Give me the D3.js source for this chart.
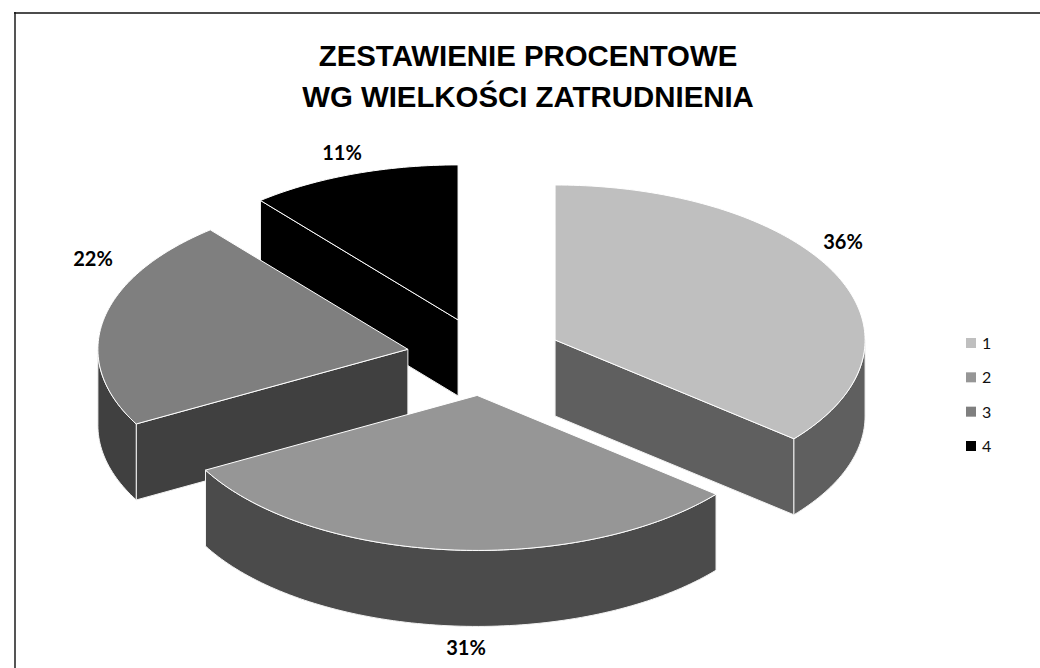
<!DOCTYPE html>
<html>
<head>
<meta charset="utf-8">
<script src="https://cdn.jsdelivr.net/npm/d3@7"></script>
<style>
    html, body { margin: 0; padding: 0; background: #fff; }
    svg { display: block; }
    .title { font-family: "Liberation Sans", Arial, sans-serif; font-weight: bold; font-size: 29.4px; fill: #000; }
    .pct { font-family: Lato, sans-serif; font-weight: bold; font-size: 20px; fill: #000; }
    .leg { font-family: Lato, sans-serif; font-size: 16px; fill: #111; }
</style>
</head>
<body>
<svg id="chart" width="1040" height="668"></svg>
<script>
const CATEGORIES = ["1", "2", "3", "4"];
const VALUES = [36, 31, 22, 11];
const TOP_COLORS = ["#bfbfbf", "#969696", "#7f7f7f", "#000000"];
const SIDE_COLORS = ["#5f5f5f", "#4b4b4b", "#404040", "#000000"];
const TITLE_LINES = ["ZESTAWIENIE PROCENTOWE", "WG WIELKOŚCI ZATRUDNIENIA"];

// layout of the tilted pie
const CX = 484.5, CY = 356.6, RX = 310, RY = 155, DEPTH = 76, EXPLODE = 78;
const LABEL_XY = [[843, 242], [466, 648], [93, 259], [342, 153]];
const DRAW_ORDER = [3, 2, 0, 1];

const SVG = d3.select("#chart");

// frame, the top line runs off the right side and the left one off the bottom
SVG.append("line").attr("x1", 15).attr("x2", 15).attr("y1", 12).attr("y2", 668)
    .attr("stroke", "#555").attr("stroke-width", 2);
SVG.append("line").attr("x1", 14).attr("x2", 1040).attr("y1", 13).attr("y2", 13)
    .attr("stroke", "#111").attr("stroke-width", 1.6);

const title = SVG.append("text").attr("class", "title").attr("text-anchor", "middle");
TITLE_LINES.forEach((line, i) => {
    title.append("tspan").attr("x", 528).attr("y", 66 + i * 41).text(line);
});

const slices = d3.pie().sort(null).value(d => d)(VALUES);

// angle 0 is at the top, clockwise, as in d3.pie
const px = (c, a) => c.x + RX * Math.sin(a);
const py = (c, a) => c.y - RY * Math.cos(a);

function arcPoints(c, a0, a1, dy) {
    const n = Math.max(2, Math.ceil((a1 - a0) / 0.02));
    return d3.range(n + 1).map(i => {
        const a = a0 + (a1 - a0) * i / n;
        return [px(c, a), py(c, a) + dy];
    });
}

const line = d3.line();

DRAW_ORDER.forEach(i => {
    const s = slices[i];
    const mid = (s.startAngle + s.endAngle) / 2;
    const c = {
        x: CX + EXPLODE * Math.sin(mid),
        y: CY - EXPLODE * 0.5 * Math.cos(mid)
    };
    const g = SVG.append("g");
    const side = SIDE_COLORS[i];

    // back walls that face the viewer
    [s.startAngle, s.endAngle].forEach((a, k) => {
        const facing = k === 0 ? Math.sin(a) < -0.01 : Math.sin(a) > 0.01;
        if (!facing) return;
        const wall = [[c.x, c.y], [px(c, a), py(c, a)], [px(c, a), py(c, a) + DEPTH], [c.x, c.y + DEPTH]];
        g.append("path").attr("d", line(wall) + "Z")
            .attr("fill", side).attr("stroke", "#f2f2f2").attr("stroke-width", 1);
    });

    // outer rim, front half only
    const a0 = Math.max(s.startAngle, Math.PI / 2);
    const a1 = Math.min(s.endAngle, Math.PI * 1.5);
    if (a1 > a0) {
        const rim = arcPoints(c, a0, a1, 0).concat(arcPoints(c, a0, a1, DEPTH).reverse());
        g.append("path").attr("d", line(rim) + "Z")
            .attr("fill", side).attr("stroke", "#f2f2f2").attr("stroke-width", 1);
    }

    // top face
    const top = [[c.x, c.y]].concat(arcPoints(c, s.startAngle, s.endAngle, 0));
    g.append("path").attr("d", line(top) + "Z")
        .attr("fill", TOP_COLORS[i]).attr("stroke", "#fff").attr("stroke-width", 1);
});

SVG.selectAll("text.pct")
    .data(VALUES)
    .join("text")
    .attr("class", "pct")
    .attr("text-anchor", "middle")
    .attr("x", (d, i) => LABEL_XY[i][0])
    .attr("y", (d, i) => LABEL_XY[i][1] + 7)
    .text(d => d + "%");

const legendY = d3.scalePoint().domain(CATEGORIES).range([343.5, 446.5]);
const legend = SVG.selectAll("g.legend")
    .data(CATEGORIES)
    .join("g")
    .attr("class", "legend")
    .attr("transform", d => `translate(966,${legendY(d)})`);
legend.append("rect")
    .attr("x", 0).attr("y", -5.5).attr("width", 10).attr("height", 10)
    .attr("fill", (d, i) => TOP_COLORS[i]);
legend.append("text")
    .attr("class", "leg")
    .attr("x", 16).attr("y", 5.5)
    .text(d => d);
</script>
</body>
</html>
